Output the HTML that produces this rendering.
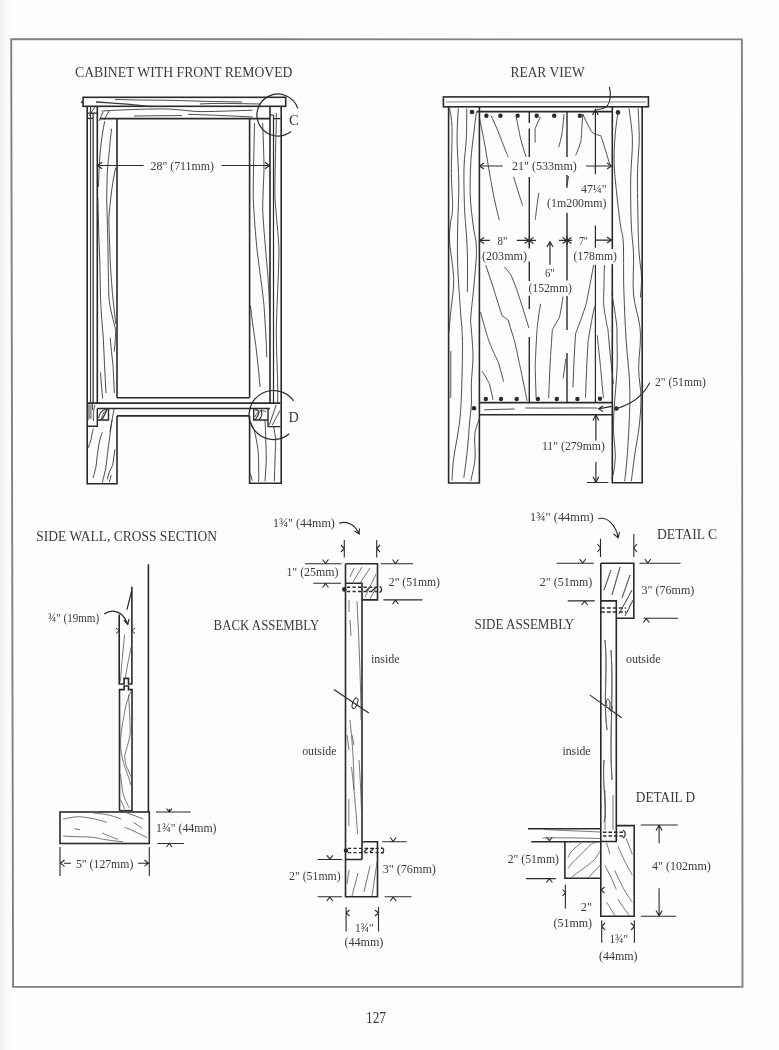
<!DOCTYPE html>
<html><head><meta charset="utf-8"><title>127</title>
<style>
html,body{margin:0;padding:0;background:#fdfdfd;}
body{width:779px;height:1050px;overflow:hidden;position:relative;}
svg{position:absolute;left:0;top:0;display:block;filter:blur(0.35px);}
text{font-family:"Liberation Serif",serif;fill:#3a3a3a;paint-order:stroke;stroke:#fdfdfd;stroke-width:3px;stroke-linejoin:round;}
</style></head><body>
<svg width="779" height="1050" viewBox="0 0 779 1050">
<defs>
<linearGradient id="lshade" x1="0" x2="1" y1="0" y2="0">
<stop offset="0" stop-color="#ececf0"/><stop offset="1" stop-color="#fdfdfd" stop-opacity="0"/>
</linearGradient>
</defs>
<rect x="0" y="0" width="14" height="1050" fill="url(#lshade)"/>
<!-- page border -->
<path d="M11.2 39.2L741.9 39.4L742.5 986.8L13.1 986.9Z" fill="none" stroke="#808080" stroke-width="1.9"/>

<!-- titles -->
<g font-size="14.8">
<text x="75" y="77.2" textLength="217.5" lengthAdjust="spacingAndGlyphs">CABINET WITH FRONT REMOVED</text>
<text x="510.4" y="77" textLength="74.3" lengthAdjust="spacingAndGlyphs">REAR VIEW</text>
<text x="36.3" y="541.4" textLength="180.6" lengthAdjust="spacingAndGlyphs">SIDE WALL, CROSS SECTION</text>
<text x="213.6" y="629.7" textLength="105.6" lengthAdjust="spacingAndGlyphs">BACK ASSEMBLY</text>
<text x="474.4" y="629.4" textLength="99.9" lengthAdjust="spacingAndGlyphs">SIDE ASSEMBLY</text>
<text x="657" y="538.8" textLength="60" lengthAdjust="spacingAndGlyphs">DETAIL C</text>
<text x="635.8" y="802.4" textLength="59.3" lengthAdjust="spacingAndGlyphs">DETAIL D</text>
</g>
<text x="366" y="1023" font-size="16" textLength="20" lengthAdjust="spacingAndGlyphs">127</text>

<!-- CABINET FRONT -->
<g id="cab" fill="none" stroke="#2a2a2a" stroke-width="1.6">
<rect x="83.1" y="97.3" width="202.6" height="9" />
<path d="M80.9 102.3h2.4"/>
<path d="M87.2 106.3V483.7H117V415.9M117 397.7V118.6M97.3 106.3V403"/>
<path d="M93.1 113.2V403M87.2 113.2H97.3M87.2 118.4H93.1" stroke-width="1.2"/>
<path d="M100 118.6H270M270 106.3V403M249.6 118.6V397.7M249.6 415.9V483.3H281.2V106.3" />
<path d="M273.5 115V403M270 115H273.5M273.5 118.6H280.4" stroke-width="1.2"/>
<path d="M117 397.7H249.6M87.2 403.1H280.4M97.3 408.5H270M117 415.9H249.6"/>
<path d="M87.2 426.3H97.3V408.5M97.4 420H108.5V408.5" stroke-width="1.4"/>
<path d="M280.4 426.6H268V408.5M268 420H253.7V408.5" stroke-width="1.4"/>
<path d="M98.5 418C99.5 413 102 410 106 409.5M102 420C104 416 106 412 107.2 409" stroke-width="1.1"/>
<path d="M255 410C258 409.5 259.5 411.5 258.5 414C257.5 417 256 418 255.5 419.5M259 419.5C262 417 262.5 413 261 409.5" stroke-width="1.1"/>
<!-- detail circles -->
<path d="M297.8 108.2A21 21 0 1 0 291 131.5" stroke-width="1.2"/>
<path d="M293.6 400.9A24.5 24.5 0 1 0 289.3 433.8" stroke-width="1.2"/>
<!-- dimension 28 -->
<path d="M97.5 165.5H143.5M221.4 165.5H269.5" stroke-width="1.1"/>
<path d="M102 162.3L97.5 165.5L102 168.7M265 162.3L269.5 165.5L265 168.7" stroke-width="1.1"/>
<!-- grain -->
<g stroke-width="0.9" stroke="#3a3a3a">
<path d="M96 102C110 103 125 104 134 104.8C140 105.5 146 106 152 106.5" stroke-width="1.3"/>
<path d="M115 99.4C130 100 150 100.2 161 100.2C180 100.5 195 101 204 101.3C220 101.6 232 101.8 242 102"/>
<path d="M200 104C215 103 235 103.5 260 104"/>
<path d="M101.6 111C120 110 140 109 161 108.9C180 109 190 111.6 201 111.6C220 111.5 240 110.5 252.5 110.2"/>
<path d="M134 116C150 115.8 170 115.6 182 115.6M188 114.3C210 115 235 116 252.5 117"/>
<path d="M104.7 121.2C103 130 102 136 101.2 142.6C100 152 99.4 162 99.1 170.2C98.8 176 98.6 182 98.5 186.8"/>
<path d="M111.6 128.8C110.8 135 110 142 109.5 149.5C108.8 156 108 163 107.4 170.2C107 180 106.8 190 106.7 197.9C106.9 207 107.2 216 107.4 225.5C107.6 236 108 248 108.1 260C108.3 270 108.6 285 108.8 296.4C110 310 114 322 115.7 331C115.5 338 115 345 114.3 351.7"/>
<path d="M115.7 167.5C114 175 112.5 183 111.6 191C110.5 200 109.5 210 108.8 218.6C109 232 109.8 246 110.2 260C110.6 268 111 276 111.6 282.6C112.5 297 114.5 312 115.7 324"/>
<path d="M97.8 197.9C98 207 98.3 216 98.5 225.5C98.8 236 99.3 248 99.8 260C100 272 100.3 285 100.5 296.4C101 312 102.3 326 103.3 337.9C104 356 105 375 106 393.1"/>
<path d="M110.2 337.9C111 347 112 356 113 365.5C113.5 375 114 384 114.3 393.1M100.5 372.4C101 381 101.8 390 102.6 398.6"/>
<path d="M90.5 106V403" stroke-width="1.1"/>
<path d="M92.4 403.6V410M88 404V420" stroke-width="1.1"/><path d="M88.3 404.5L91.8 404.5L91.8 419L88.3 419Z" fill="#999" stroke="none"/><path d="M93.5 421C93 414 93.5 410 95 405M110 431.6L114 409"/>
<path d="M254.5 123.2C254 150 253.2 175 253.2 196.6C254 215 255.5 235 257.2 251C259.5 270 262.5 290 264 305.5C265.3 325 266.3 342 266.8 357.2"/>
<path d="M262.7 123.2C263.2 140 264 155 264 169.4C263.5 185 262.7 198 262.7 210.2C264 235 266.5 258 268.1 278.3C268.8 290 269.3 300 269.5 310.9"/>
<path d="M250.4 305.5C252 320 254 333 255.9 346.3C257.5 360 259 373 260 387.1"/>
<path d="M276.3 113V123.2C275.5 150 274.9 175 274.9 196.6C276 215 278.5 235 279 251C278.5 280 276.5 310 276.3 332.7C276.5 355 277.5 370 277.7 387.1V403"/>
<path d="M269.3 425L276.2 405M272.4 425L280 410.4"/>
<path d="M99 121L103 112M104 120L109 111M89 116L95 107M101 420C103 412 106 410 107 412"/>
<path d="M93.3 428.7C92.5 432 91.5 436 91.3 438.7C90.5 442 89 445 88 448M102.3 432.3C100.5 437 99.5 441 98.7 445.3C97.5 452 96.8 460 96 466.7C95 471 94 475 93 478M112 420C111 427 110 434 109.3 440C108 450 107 458 106 466.7C105 472 103.5 478 102.3 482.7M115 449.3C114 455 113.5 460 112.7 465.3C111.5 468 110 470 109.3 472C108.5 474.5 108 477 107.3 479.3M111.3 475.3L109.3 482"/>
<path d="M250.3 421.3C252 425 254 429 255 433.3C256.5 440 257.8 447 258.3 453.3C258.8 465 258.7 475 258.7 482M265 420C265.3 427 265.7 434 265.7 440C266 447 266.3 454 266.3 460C266 467 265.5 474 265 481.3M273.7 426.7C274.5 431 275.3 436 275.7 440C275.5 447 275.2 454 275 460C274.8 467 274.5 474 274.3 481.3M250.3 473.3L252.3 480.7"/>
<path d="M255 417C257 411 262 409 266 412"/>
</g>
</g>

<g font-size="12.8">
<text x="150.6" y="169.9" textLength="63.3" lengthAdjust="spacingAndGlyphs">28" (711mm)</text>
</g>
<text x="289" y="125.4" font-size="15" textLength="9.8" lengthAdjust="spacingAndGlyphs">C</text>
<text x="288.5" y="422.3" font-size="15" textLength="10.3" lengthAdjust="spacingAndGlyphs">D</text>
<!-- REAR VIEW -->
<g id="rear" fill="none" stroke="#2a2a2a" stroke-width="1.6">
<rect x="443.4" y="96.9" width="205" height="9.9"/>
<path d="M448.6 106.8V483H479.4V106.8M612.3 106.8V248.9M612.3 264.1V482.8H642.2V106.8"/>
<path d="M476.7 111.6H612.3M479.4 402.6H612.3M479.4 414.8H612.3" />
<path d="M529.3 111.6V123M529.3 128.4V157M529.3 176.9V248.6M529.3 261.4V281M529.3 295.8V309M529.3 337V402" stroke-width="1.4"/>
<path d="M567 111.6V157M567 175V187.7M567 212.8V280.4M567 295.8V330M567 353V402" stroke-width="1.4"/>
<path d="M595.4 109V174.2M595.4 225.6V247.7M595.4 264.8V402.6M595.9 414.8V440.5M595.9 462V482.3M587 482.5H608.5" stroke-width="1.2"/>
<path d="M592.6 115L595.4 109.5L598.2 115M593 420.5L595.9 415L598.8 420.5M593 476.8L595.9 482.3L598.8 476.8" stroke-width="1.2"/>
<path d="M479.5 166H502.9M586 166H611.5M479.5 240.4H490M516.8 240.4H536M559 240.4H572M596 240.1H611.5" stroke-width="1.2"/>
<path d="M484 163L479.5 166L484 169M607 163L611.5 166L607 169M484 237.4L479.5 240.4L484 243.4M524.5 237.4L529 240.4L524.5 243.4M533.5 237.4L529.3 240.4L533.5 243.4M562.5 237.4L567 240.4L562.5 243.4M571.5 237.4L567 240.4L571.5 243.4M607 237.1L611.5 240.1L607 243.1M529.3 236V245M567 236V245" stroke-width="1.2"/>
<path d="M550 241.8V264.7M547 247L550 241.8L553 247" stroke-width="1.2"/>
<path d="M649.8 382.8C646 390 640 398 630 403C624 406 620 408 616.4 408.5M611.8 406.4C606 407.5 602 408.2 598.5 408.8M603 405.8L598.5 408.8L603 411.6" stroke-width="1.1"/>
<path d="M609.4 87C611.5 95 610 103 606.6 106.8C604 108.5 600 109.5 596.7 109.7" stroke-width="1.1"/>
<g fill="#2a2a2a" stroke="none">
<circle cx="472" cy="112" r="2.3"/><circle cx="618" cy="112.4" r="2.3"/>
<circle cx="486.4" cy="115.7" r="2.2"/><circle cx="500.4" cy="115.7" r="2.2"/><circle cx="517.6" cy="115.7" r="2.2"/><circle cx="536.7" cy="115.7" r="2.2"/><circle cx="554.2" cy="115.7" r="2.2"/><circle cx="579.9" cy="115.7" r="2.2"/>
<circle cx="485.8" cy="399" r="2.2"/><circle cx="501" cy="399" r="2.2"/><circle cx="516.7" cy="399" r="2.2"/><circle cx="537.9" cy="399" r="2.2"/><circle cx="556.8" cy="399" r="2.2"/><circle cx="577.4" cy="399" r="2.2"/><circle cx="600" cy="398.8" r="2.2"/>
<circle cx="474" cy="408.3" r="2.3"/><circle cx="616.4" cy="408.5" r="2.3"/>
</g>
<g stroke-width="0.9" stroke="#3a3a3a">
<path d="M446 102C490 101.5 540 102.5 600 102C620 101.8 635 102.2 646 102" stroke="#777"/>
<path d="M484 409.8C494 409.5 504 409.2 514.5 409M525.3 408C550 408.3 575 407.8 597.2 408"/>
<path d="M449.7 108.4C450.1 111.6 451.7 117.0 452.0 127.8C452.3 138.7 451.3 160.2 451.4 173.5C451.5 186.8 452.8 199.1 452.6 207.7C452.4 216.3 450.8 219.1 450.3 224.9C449.8 230.8 449.1 233.7 449.7 242.8C450.3 251.9 453.5 268.0 453.7 279.4C453.9 290.8 451.6 302.2 450.8 311.3C450.0 320.4 449.0 330.4 448.6 334.2"/>
<path d="M458.3 108.4C458.1 113.5 457.0 126.4 457.1 139.2C457.2 151.9 458.7 170.6 458.8 184.9C458.9 199.2 457.9 211.4 457.7 224.9C457.5 238.4 457.2 251.3 457.7 265.7C458.2 280.1 459.8 300.6 460.5 311.3C461.2 322.0 461.7 323.4 462.0 330.0C462.3 336.6 462.6 340.5 462.5 351.0C462.4 361.5 461.9 381.5 461.5 392.9C461.1 404.2 460.7 411.2 459.9 419.1C459.1 427.0 457.9 433.3 456.8 440.0C455.7 446.7 454.3 452.6 453.5 459.3C452.7 466.0 452.2 476.9 451.9 480.4"/>
<path d="M466.8 108.4C466.7 113.5 466.8 129.3 466.3 139.2C465.8 149.1 464.3 156.4 464.0 167.8C463.7 179.2 464.2 198.2 464.5 207.7C464.8 217.2 465.2 217.2 465.7 224.9C466.2 232.7 467.1 243.0 467.4 254.2C467.7 265.4 467.4 285.6 467.4 291.9"/>
<path d="M476.5 111.8C476.1 114.8 475.1 121.7 474.2 130.1C473.2 138.5 471.4 151.1 470.8 162.1C470.2 173.1 469.9 185.8 470.3 196.3C470.7 206.8 472.1 216.2 473.1 224.9C474.1 233.6 476.3 238.8 476.5 248.5C476.7 258.1 475.1 271.4 474.2 282.8C473.2 294.2 471.3 309.1 470.8 317.0C470.3 324.9 471.0 323.5 471.4 330.0C471.8 336.5 473.0 347.5 473.0 356.2C473.0 364.9 471.7 374.5 471.4 382.4C471.1 390.3 471.7 396.4 471.4 403.4C471.1 410.4 469.9 418.2 469.4 424.3C468.9 430.4 468.8 434.2 468.3 440.0C467.8 445.8 467.1 453.0 466.3 459.3C465.6 465.6 464.2 474.8 463.8 477.9"/>
<path d="M479.3 419.1C478.7 420.9 476.4 426.1 475.6 429.6C474.8 433.1 474.7 435.1 474.6 440.0C474.5 444.9 475.6 452.5 475.0 459.3C474.4 466.1 471.5 477.4 470.8 481.0"/>
<path d="M618.1 111.8C617.6 115.4 616.0 125.1 615.3 133.5C614.6 141.9 613.9 152.6 614.1 162.1C614.3 171.6 615.4 180.1 616.4 190.6C617.4 201.1 619.2 216.2 620.4 224.9C621.5 233.6 622.7 232.2 623.3 242.8C623.9 253.4 623.3 272.3 623.8 288.5C624.3 304.7 625.1 324.5 626.1 339.9C627.1 355.3 628.9 368.2 629.5 380.7C630.1 393.2 629.9 402.5 629.5 414.9C629.1 427.3 628.1 443.8 627.3 454.9C626.5 466.0 625.1 476.9 624.7 481.3"/>
<path d="M629.0 108.4C629.6 113.5 632.1 127.4 632.4 139.2C632.7 151.0 630.9 164.9 630.7 179.2C630.5 193.5 630.8 212.4 631.3 224.9C631.8 237.4 633.1 242.6 633.5 254.2C633.9 265.8 632.5 282.8 633.5 294.2C634.5 305.6 638.1 315.1 639.2 322.7C640.4 330.3 640.5 332.1 640.4 339.9C640.3 347.6 638.6 359.5 638.7 369.2C638.8 378.9 640.9 388.3 641.0 397.8C641.1 407.3 640.2 416.8 639.2 426.3C638.2 435.8 636.0 445.7 634.7 454.9C633.4 464.1 631.9 476.9 631.3 481.3"/>
<path d="M638.1 108.4C638.3 113.5 639.3 128.3 639.2 139.2C639.1 150.0 637.7 159.2 637.5 173.5C637.3 187.8 637.8 211.5 638.1 224.9C638.4 238.3 638.6 245.5 639.2 254.2C639.8 262.9 641.3 269.9 641.5 277.1C641.7 284.3 640.6 294.2 640.4 297.6"/>
<path d="M611.8 293.0C612.6 297.9 615.5 314.9 616.4 322.7C617.3 330.5 616.9 332.1 617.0 339.9C617.1 347.6 617.5 357.6 617.0 369.2C616.5 380.8 614.7 398.7 614.1 409.2C613.5 419.7 613.4 424.4 613.6 432.0C613.8 439.6 615.3 448.2 615.3 454.9C615.3 461.6 614.3 468.0 613.7 472.0C613.1 476.0 612.0 477.6 611.7 478.7"/>
<path d="M450.6 351V398" stroke-width="1.6" stroke="#888"/>
<path d="M479.5 117.6C482 130 485.8 150 485.8 150C488 165 491.2 182.3 491.2 182.3C494 200 499.3 220 499.3 220"/>
<path d="M491.2 115.8C494 122 498.4 132 498.4 132C502 142 508.2 157.1 508.2 157.1M513.6 176.9C516 185 522.6 205.6 522.6 205.6"/>
<path d="M516.3 117.6C518 125 519.9 135.6 519.9 135.6C522 145 526.2 157.1 526.2 157.1"/>
<path d="M540.6 116.7C538 122 535.2 128.4 535.2 128.4C535 133 535.2 142.7 535.2 142.7M538.8 193C537 205 535.2 220 535.2 220"/>
<path d="M564 114C563.5 122 562.2 132 562.2 132C561 140 558.6 147.2 558.6 147.2M568.5 176C568 180 567.5 183 567 185"/>
<path d="M582.8 114C582 125 581 141 581 141C579 148 575.6 155.3 575.6 155.3M582.8 114C586 122 591.8 132 591.8 132C595 135 600.8 135.6 600.8 135.6C604 145 609.8 164.3 609.8 164.3"/>
<path d="M485.8 265.2L493 286.7C497 300 502 315.5 502 315.5C505 318 508.2 320 508.2 320C511 330 514.5 340.6 514.5 340.6C517 352 519.9 365.8 519.9 365.8C523 380 527.1 400.9 527.1 400.9"/>
<path d="M504.7 267C507 270 511 275 511 275C514 282 516.3 288.5 516.3 288.5C522 305 528.9 328 528.9 328"/>
<path d="M480.4 311.9C484 325 487.6 337 487.6 337C492 350 498.4 362.2 498.4 362.2C501 372 503.8 382 503.8 382M482.2 371.2C486 377 489.4 383.8 489.4 383.8C491 390 493 400 493 400"/>
<path d="M540.6 303.8C538.5 315 537 329.9 537 329.9C536 345 535.2 365.8 535.2 365.8C535.5 380 536.1 398.2 536.1 398.2"/>
<path d="M563.1 296.6C561.5 307 559.5 317.3 559.5 317.3C556 323 552.3 329.9 552.3 329.9C551.5 342 550.5 356.8 550.5 356.8C549.5 375 548.7 398.2 548.7 398.2M565.8 358.6C565 366 563.1 378.4 563.1 378.4"/>
<path d="M593.6 265.2C590 285 586.4 302.9 586.4 302.9C582 318 575.6 333.5 575.6 333.5C574 355 573 387.4 573 387.4"/>
<path d="M594.5 306.5C591 323 588.2 340.6 588.2 340.6C586.5 365 585.5 398.2 585.5 398.2"/>
<path d="M604.4 265.2C604 285 603.5 302.9 603.5 302.9C605 317 608 329.9 608 329.9C610 355 613.4 383.8 613.4 383.8M597.2 335.3C599 352 600.8 369.4 600.8 369.4C602 385 603.5 398.2 603.5 398.2"/>
</g>
</g>
<g font-size="12.8">
<text x="512.1" y="170.3" textLength="64.7" lengthAdjust="spacingAndGlyphs">21" (533mm)</text>
<text x="581" y="192.7" textLength="25.6" lengthAdjust="spacingAndGlyphs">47¼"</text>
<text x="547" y="207" textLength="59.6" lengthAdjust="spacingAndGlyphs">(1m200mm)</text>
<text x="497.5" y="245.3" textLength="9.8" lengthAdjust="spacingAndGlyphs">8"</text>
<text x="482" y="260" textLength="45" lengthAdjust="spacingAndGlyphs">(203mm)</text>
<text x="578.9" y="245" textLength="9" lengthAdjust="spacingAndGlyphs">7"</text>
<text x="573.5" y="259.9" textLength="43.5" lengthAdjust="spacingAndGlyphs">(178mm)</text>
<text x="544.9" y="276.5" textLength="9.8" lengthAdjust="spacingAndGlyphs">6"</text>
<text x="528.4" y="291.6" textLength="43.6" lengthAdjust="spacingAndGlyphs">(152mm)</text>
<text x="541.9" y="450" textLength="63.1" lengthAdjust="spacingAndGlyphs">11" (279mm)</text>
<text x="655" y="385.5" textLength="50.8" lengthAdjust="spacingAndGlyphs">2" (51mm)</text>
</g>

<!-- SIDE WALL -->
<g id="side" fill="none" stroke="#2a2a2a" stroke-width="1.6">
<path d="M148.4 564.3V812"/>
<path d="M131.9 586.7V684H128.5V678.4H124.1V684H119.2V614.6"/>
<path d="M131.6 591L127 609.7" stroke-width="1.2"/>
<path d="M119.5 810V689.6H124.1V686H128.5V689.6H132V810"/>
<path d="M119 810.5H133" stroke-width="1.2"/>
<rect x="60" y="812" width="89.3" height="31.5"/>
<path d="M104.3 614C110 610 122 608 127.8 624.5M124 620L127.8 624.5L129 619" stroke-width="1.2"/>
<path d="M116 628L119.2 630.7L116 633.4M135 628L131.9 630.7L135 633.4" stroke-width="1"/>
<path d="M156 812H190.7M157.3 843.5H184M169.3 809L169.3 812M166.5 808.5L169.3 812L172 808.5M166.5 847L169.3 843.5L172 847" stroke-width="1.1"/>
<path d="M60 847V876M149.3 847V876M64 863.2H71M138 863.2H148.3M64.5 860L60.5 863.2L64.5 866.4M144.5 860L148.5 863.2L144.5 866.4" stroke-width="1.1"/>
<g stroke-width="0.8" stroke="#555">
<path d="M124.7 634.4C123 650 121.5 665 120.4 681.5M132 643.1C129.5 655 127 667 125.4 677.8"/>
<path d="M131 691.3C128 698 125.5 705 124.6 712.4C122 725 120.5 735 120.5 744.7C121 755 124 765 126.2 770.6C128 776 130 781 131 785.2"/>
<path d="M128.6 694.6C129.5 710 130.2 725 130.2 733.4C129 742 126 750 124.6 756C125 760 125.5 763 126.2 765.7C128 770 130 774 131 777"/>
<path d="M120.5 773.8C121.5 782 122 788 123 793.3C125 800 127.5 805 129.4 807.8M120.5 799.5C122 803 123.5 806 124.6 809"/>
<path d="M63.1 819.1C70 817.5 75 816.7 79.3 816.7C90 817.5 100 820 106.8 822.4M92.2 812.7C97 813.3 101 813.8 105.2 814.3C112 815.5 117 817.5 121.3 819.1M126.2 812.7C132 814.5 138 816.8 143.2 819.1M133.5 822.4C137 824.5 140 826.5 142.4 828.8M124.6 827.2C132 830 140 834 147.2 837.7M63.1 836.1C70 836.5 80 836.9 87.4 836.9C95 837.5 100 838.5 103.5 839.4C110 840.5 117 841.2 123 841.8M102 832.9C107 835 112 837.5 118 839.4M74.4 828.8L80 829.6"/>
</g>
</g>
<g font-size="12.8">
<text x="47.9" y="621.5" textLength="51.2" lengthAdjust="spacingAndGlyphs">¾" (19mm)</text>
<text x="156" y="832" textLength="60.5" lengthAdjust="spacingAndGlyphs">1¾" (44mm)</text>
<text x="76" y="868" textLength="57.3" lengthAdjust="spacingAndGlyphs">5" (127mm)</text>
</g>

<!-- BACK ASSEMBLY -->
<g id="back" fill="none" stroke="#2a2a2a" stroke-width="1.6">
<path d="M345.5 563.8H377.5V599.9H362V859.5M345.5 563.8V896.8H377.5V841.7H362M345.5 583.2H362V599.9M345.5 859.5H362"/>
<path d="M347 587.3H381M347 591.5H381M348 848.4H383.4M348 852.6H383.4" stroke-width="1.4" stroke-dasharray="3.2 2.3"/><path d="M366 591L370 587M372 591L376 587M370 852L374 848M364 852L368 848" stroke-width="1.2"/><path d="M379.5 586.5C382.5 588 382.5 591 379.5 592.5M381.5 847.5C384.5 849 384.5 852 381.5 853.5" stroke-width="1.2"/>
<circle cx="344.3" cy="589.4" r="2.3" fill="#2a2a2a" stroke="none"/>
<circle cx="346" cy="850.5" r="2.3" fill="#2a2a2a" stroke="none"/>
<path d="M333.9 689.5L368.8 713" stroke-width="1.1"/>
<ellipse cx="355" cy="703.3" rx="2.3" ry="5.5" transform="rotate(20 355 703.3)" stroke-width="1"/>
<g stroke-width="1.1">
<path d="M344.3 540V557.6M376.7 540V557.6M341 545L344.3 548.5L341 552M380 545L376.7 548.5L380 552"/>
<path d="M305 563.8H341.6M313.3 583.2H341M322.5 559.5L325.5 563.3L328.5 559.5M322.5 587.5L325.5 583.7L328.5 587.5"/>
<path d="M380.7 563.8H413M383.4 599.9H422.5M392.5 559.5L395.5 563.3L398.5 559.5M392.5 604L395.5 600.3L398.5 604"/>
<path d="M317.6 859.5H342M317.6 896.8H342M326.8 855.3L329.8 859.1L332.8 855.3M326.8 901L329.8 897.2L332.8 901"/>
<path d="M382.2 841.7H406.6M384.6 896.8H411.5M390.2 837.5L393.2 841.3L396.2 837.5M390.2 901L393.2 897.2L396.2 901"/>
<path d="M346.1 907V931.5M378.5 907V931.5M349.5 910L346.1 913L349.5 916M375 910L378.5 913L375 916"/>
<path d="M339 523.3C348 520 356 526 359.2 534.1M354.5 531L359.2 534.1L359.5 528.5"/>
</g>
<g stroke-width="0.8" stroke="#555">
<path d="M350 577L354 568M353 582L362 567M360 583L370 568M365 597L376 574M370 599L377 586M349 600V612M350 620L351 636M357 601C359 640 361 690 361 720M350 720C352 740 354 760 354 790M359 760C361 790 362 820 362 843M348.8 799V826M351.5 767C353 780 354 790 354 790C356 810 357.6 834 357.6 834M347 735L349 750M352 735L354 745M349 870L347 884M358 873L352 896M370 866L364 892M377 862L372 896"/>
</g>
</g>
<g font-size="12.8">
<text x="272.9" y="526.6" textLength="62" lengthAdjust="spacingAndGlyphs">1¾" (44mm)</text>
<text x="286.4" y="576.4" textLength="52" lengthAdjust="spacingAndGlyphs">1" (25mm)</text>
<text x="388.8" y="585.9" textLength="51.2" lengthAdjust="spacingAndGlyphs">2" (51mm)</text>
<text x="370.9" y="662.7" textLength="28.8" lengthAdjust="spacingAndGlyphs">inside</text>
<text x="302.2" y="755.3" textLength="34.2" lengthAdjust="spacingAndGlyphs">outside</text>
<text x="289" y="880.2" textLength="51.7" lengthAdjust="spacingAndGlyphs">2" (51mm)</text>
<text x="382.7" y="873.4" textLength="53.2" lengthAdjust="spacingAndGlyphs">3" (76mm)</text>
<text x="354.9" y="931.5" textLength="18.8" lengthAdjust="spacingAndGlyphs">1¾"</text>
<text x="344.4" y="945.6" textLength="39" lengthAdjust="spacingAndGlyphs">(44mm)</text>
</g>

<!-- SIDE ASSEMBLY -->
<g id="sass" fill="none" stroke="#2a2a2a" stroke-width="1.6">
<path d="M600.8 563.3H633.8V618.2H616.3V841.5H600.8M600.8 563.3V916.2H634.2V825.6H616.3M600.8 600.9H616.3V618.2"/>
<path d="M600.8 608H626M600.8 612H626" stroke-width="1.3" stroke-dasharray="4 2"/>
<path d="M590 695.1L621.7 717.7" stroke-width="1.1"/>
<path d="M607 706C604 697 611 697 610 706C609 713 613 713 612 706" stroke-width="1"/>
<path d="M528 828.8H600.8M531.2 841.7H600.8M564.9 841.7V878.3H600.8"/>
<path d="M603 832.3H624M603 836H624" stroke-width="1.5" stroke-dasharray="3.5 2"/><path d="M623 830C626 832 626 836 623 838" stroke-width="1.2"/>
<g stroke-width="1.1">
<path d="M600.5 538.7V557M633.8 533.9V557M597.5 544L600.5 548L597.5 552M637 544L633.8 548L637 552"/>
<path d="M556.7 563.3H593.9M567.7 600.9H594.7M579.7 559L582.7 563L585.7 559M581.7 605L584.7 601.2L587.7 605"/>
<path d="M639.5 563.3H680.6M643.4 618.2H678M644.8 559L647.8 563L650.8 559M643.3 622.5L646.3 618.6L649.3 622.5"/>
<path d="M640.8 825H677.7M640.8 916.2H676.1M659.1 825V843.3M659.1 888.3V916.2M656 830.5L659.1 825.3L662.2 830.5M656 910.5L659.1 915.8L662.2 910.5"/>
<path d="M526 878.6H555.8M546.4 882.5L549.4 878.9L552.4 882.5M546.4 837L549.4 840.7L552.4 837"/>
<path d="M565.4 884.7V908.7M562.6 889.5L565.4 892.7L562.6 895.8M604.5 887L601.2 890L604.5 893"/>
<path d="M601.7 920.3V942.8M634.4 920.3V942.8M605 923L601.7 926.5L605 930M631 923L634.4 926.5L631 930"/>
<path d="M598.4 518.7C608 516 616 526 618.2 537.7M613.5 534L618.2 537.7L619.5 532"/>
</g>
<g stroke-width="0.8" stroke="#555">
<path d="M604 590L611 570M612 595L620 567M622 598L630 575M619 614L632 590M625 616L633 600M605 640C608 670 603 700 607 730M611 650C614 690 609 740 612 780M604 760C602 790 608 810 604 822"/>
<path d="M544 829.5C560 830.5 580 831 600 832M542.5 838C560 837.5 580 838 600 838.5"/>
<path d="M568 857.4C570 852 574 848.5 581 843M568 868.6C572 862 578 858 587.4 847.8C591 844 594 842.5 596 842.7M571.3 877.5C578 872 585 868 595.4 858.9C598 854 600 851 600.2 851M589 877.5C593 872 598 868 600.2 865"/>
<path d="M606.6 843C608 847 609 851 609.9 854.2M605 865.4C609 873 613 881 616.3 889.5M614.7 870.2C618 878 622 886 625.9 892.7C628 896 630 899 632.3 902.3M617.9 846.2C622 856 627 866 632.3 875M625.9 838.1C628 843 630 848 632.3 854.2M606.6 902.3C609 906 612 911 614.7 915.2M617.9 899.1C621 904 625 910 629.1 915.2"/>
<path d="M604 590L611 570M612 595L620 567M622 598L630 575M619 614L632 590M625 616L633 600M605 640C608 670 603 700 607 730M611 650C614 690 609 740 612 780M604 760C602 790 608 810 604 822M605 790V830M613 795V830"/>
</g>
</g>
<g font-size="12.8">
<text x="530.1" y="520.8" textLength="63.6" lengthAdjust="spacingAndGlyphs">1¾" (44mm)</text>
<text x="539.8" y="585.5" textLength="52.5" lengthAdjust="spacingAndGlyphs">2" (51mm)</text>
<text x="641.5" y="594.2" textLength="52.9" lengthAdjust="spacingAndGlyphs">3" (76mm)</text>
<text x="626" y="662.5" textLength="34.6" lengthAdjust="spacingAndGlyphs">outside</text>
<text x="562.4" y="755.2" textLength="28.2" lengthAdjust="spacingAndGlyphs">inside</text>
<text x="507.7" y="863.2" textLength="51.3" lengthAdjust="spacingAndGlyphs">2" (51mm)</text>
<text x="652" y="870" textLength="58.8" lengthAdjust="spacingAndGlyphs">4" (102mm)</text>
<text x="580.8" y="910.7" textLength="11.2" lengthAdjust="spacingAndGlyphs">2"</text>
<text x="553.5" y="926.8" textLength="38.5" lengthAdjust="spacingAndGlyphs">(51mm)</text>
<text x="609.4" y="942.8" textLength="18.6" lengthAdjust="spacingAndGlyphs">1¾"</text>
<text x="599.1" y="959.5" textLength="38.5" lengthAdjust="spacingAndGlyphs">(44mm)</text>
</g>
</svg>
</body></html>
